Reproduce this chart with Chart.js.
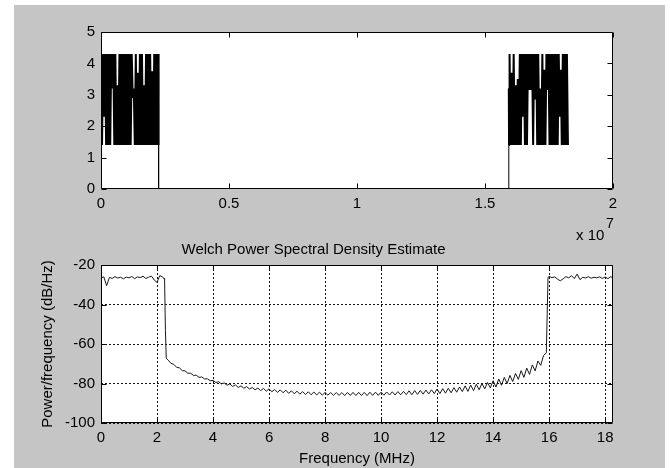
<!DOCTYPE html>
<html>
<head>
<meta charset="utf-8">
<script src="https://cdn.jsdelivr.net/npm/chart.js@4.4.1/dist/chart.umd.min.js"></script>
<style>
  body { margin: 0; width: 670px; height: 468px; background: #fff; position: relative; overflow: hidden; }
  #fig { position: absolute; left: 14px; top: 5px; width: 651px; height: 463px; background: #c5c5c5; }
  canvas { position: absolute; left: 14px; }
  #topChart { top: 5px; }
  #psdChart { top: 230px; }
  .exp { position: absolute; font-family: 'Liberation Sans', Arial, sans-serif; color: #000; white-space: nowrap; }
</style>
</head>
<body>
<div id="fig"></div>
<canvas id="topChart" width="651" height="240"></canvas>
<canvas id="psdChart" width="651" height="238"></canvas>
<div class="exp" style="left:576px;top:227px;font-size:15px;line-height:15px;">x 10</div>
<div class="exp" style="left:606px;top:216px;font-size:14px;line-height:14px;">7</div>
<script>
// upper plot: magnitude vs frequency (axis in MHz, labelled in units of 1e7 Hz)
const topTickMHz = [0, 5, 10, 15, 20];
const topTickLabels = ['0', '0.5', '1', '1.5', '2'];
const topMagTicks = [0, 1, 2, 3, 4, 5];

const leftBlockMHz = [0, 0.04, 0.08, 0.12, 0.16, 0.2, 0.24, 0.28, 0.32, 0.36,
  0.4, 0.44, 0.48, 0.52, 0.56, 0.6, 0.64, 0.68, 0.72, 0.76,
  0.8, 0.84, 0.88, 0.92, 0.96, 1, 1.04, 1.08, 1.12, 1.16,
  1.2, 1.24, 1.28, 1.32, 1.36, 1.4, 1.44, 1.48, 1.52, 1.56,
  1.6, 1.64, 1.68, 1.72, 1.76, 1.8, 1.84, 1.88, 1.92, 1.96,
  2, 2.04, 2.08, 2.12, 2.16, 2.2, 2.24];
const leftBlockMag = [4.3, 1.4, 4.3, 2.3, 4.3, 1.4, 4.3, 1.4, 4.3, 1.4,
  4.3, 3.2, 4.3, 1.4, 4.3, 1.4, 3.3, 1.4, 4.3, 1.4,
  4.3, 1.4, 4.3, 1.4, 4.3, 1.4, 4.3, 1.4, 4.3, 1.4,
  4.3, 2.9, 3.2, 1.4, 4.3, 1.4, 3.7, 1.4, 4.3, 1.4,
  4.3, 1.4, 3.3, 1.4, 4.3, 1.4, 4.3, 1.4, 4.3, 1.4,
  3.75, 1.4, 4.3, 1.4, 4.3, 1.4, 4.3];

const gapMHz = [2.25, 2.25, 15.92, 15.93, 15.94];
const gapMag = [1.4, 0, 0, 3.2, 1.4];

const rightBlockMHz = [15.96, 16, 16.04, 16.08, 16.12, 16.16, 16.2, 16.24, 16.28, 16.32,
  16.36, 16.4, 16.44, 16.48, 16.52, 16.56, 16.6, 16.64, 16.68, 16.72,
  16.76, 16.8, 16.84, 16.88, 16.92, 16.96, 17, 17.04, 17.08, 17.12,
  17.16, 17.2, 17.24, 17.28, 17.32, 17.36, 17.4, 17.44, 17.48, 17.52,
  17.56, 17.6, 17.64, 17.68, 17.72, 17.76, 17.8, 17.84, 17.88, 17.92,
  17.96, 18, 18.04, 18.08, 18.12, 18.16, 18.2, 18.24];
const rightBlockMag = [4.3, 1.4, 3.7, 1.4, 4.3, 1.4, 3.3, 1.4, 3.5, 1.4,
  4.3, 1.4, 4.3, 2.3, 4.3, 1.4, 4.3, 1.4, 4.3, 3.15,
  4.3, 3.15, 4.3, 1.4, 4.3, 2.85, 4.3, 1.4, 4.3, 1.4,
  3.2, 1.4, 4.3, 1.4, 3.8, 1.4, 4.3, 3.15, 4.3, 1.4,
  4.3, 1.4, 4.3, 1.4, 4.3, 1.4, 4.3, 1.4, 4.3, 2.3,
  3.8, 1.4, 4.3, 1.4, 4.3, 1.4, 4.3, 1.4];

// lower plot: Welch PSD
const psdTickMHz = [0, 2, 4, 6, 8, 10, 12, 14, 16, 18];
const psdTickDb = [-100, -80, -60, -40, -20];
const psdTickDbLabels = ['-100', '-80', '-60', '-40', '-20'];

const psdMHz = [0, 0.1, 0.2, 0.3, 0.4, 0.5, 0.6, 0.7, 0.8, 0.9,
  1, 1.1, 1.2, 1.3, 1.4, 1.5, 1.6, 1.7, 1.8, 1.9,
  2, 2.1, 2.2, 2.25, 2.27, 2.3, 2.33,
  2.4, 2.5, 2.6, 2.7, 2.8, 2.9,
  3, 3.1, 3.2, 3.3, 3.4, 3.5, 3.6, 3.7, 3.8, 3.9,
  4, 4.1, 4.2, 4.3, 4.4, 4.5, 4.6, 4.7, 4.8, 4.9,
  5, 5.1, 5.2, 5.3, 5.4, 5.5, 5.6, 5.7, 5.8, 5.9,
  6, 6.1, 6.2, 6.3, 6.4, 6.5, 6.6, 6.7, 6.8, 6.9,
  7, 7.1, 7.2, 7.3, 7.4, 7.5, 7.6, 7.7, 7.8, 7.9,
  8, 8.1, 8.2, 8.3, 8.4, 8.5, 8.6, 8.7, 8.8, 8.9,
  9, 9.1, 9.2, 9.3, 9.4, 9.5, 9.6, 9.7, 9.8, 9.9,
  10, 10.1, 10.2, 10.3, 10.4, 10.5, 10.6, 10.7, 10.8, 10.9,
  11, 11.1, 11.2, 11.3, 11.4, 11.5, 11.6, 11.7, 11.8, 11.9,
  12, 12.1, 12.2, 12.3, 12.4, 12.5, 12.6, 12.7, 12.8, 12.9,
  13, 13.1, 13.2, 13.3, 13.4, 13.5, 13.6, 13.7, 13.8, 13.9,
  14, 14.1, 14.2, 14.3, 14.4, 14.5, 14.6, 14.7, 14.8, 14.9,
  15, 15.1, 15.2, 15.3, 15.4, 15.5, 15.6, 15.7, 15.8, 15.9,
  15.93, 15.96,
  16, 16.1, 16.2, 16.3, 16.4, 16.5, 16.6, 16.7, 16.8, 16.9,
  17, 17.1, 17.2, 17.3, 17.4, 17.5, 17.6, 17.7, 17.8, 17.9,
  18, 18.1, 18.2, 18.28];
const psdDb = [-26.5, -26.0, -30.5, -26.3, -26.8, -25.9, -26.6, -26.2, -27.0, -26.1,
  -26.5, -25.8, -26.9, -26.0, -26.4, -25.7, -26.8, -26.2, -25.6, -27.6,
  -28.8, -25.3, -26.2, -26.8, -27.5, -53, -67.2,
  -68.2, -69.8, -70.3, -71.8, -72.1, -73.5,
  -73.6, -74.8, -74.8, -75.9, -75.8, -76.9, -76.7, -77.7, -77.6, -78.6,
  -78.4, -79.5, -79.1, -80.2, -79.7, -80.9, -80.2, -81.5, -80.7, -82.0,
  -81.2, -82.4, -81.6, -82.8, -82.0, -83.2, -82.3, -83.6, -82.5, -83.9,
  -82.7, -84.2, -83.0, -84.5, -83.2, -84.7, -83.4, -85.0, -83.7, -85.2,
  -83.9, -85.4, -84.1, -85.6, -84.2, -85.7, -84.3, -85.8, -84.4, -85.9,
  -84.5, -85.9, -84.6, -86.0, -84.6, -86.0, -84.6, -86.1, -84.5, -86.1,
  -84.5, -86.1, -84.5, -86.1, -84.5, -86.1, -84.4, -86.0, -84.4, -86.0,
  -84.4, -85.9, -84.3, -85.8, -84.2, -85.8, -84.1, -85.7, -84.0, -85.6,
  -83.7, -85.7, -83.6, -85.5, -83.5, -85.4, -83.3, -85.3, -83.2, -85.1,
  -82.8, -85.1, -82.6, -84.9, -82.4, -84.7, -82.1, -84.4, -81.8, -84.1,
  -81.2, -84.0, -80.8, -83.6, -80.4, -83.2, -80.0, -82.7, -79.5, -82.2,
  -78.6, -81.8, -77.7, -80.9, -76.9, -80.0, -75.9, -79.0, -74.9, -77.9,
  -73.5, -76.9, -72.2, -75.4, -70.6, -73.6, -68.6, -70.8, -65.8, -64.5,
  -45, -26.2,
  -25.8, -26.4, -26.0, -27.2, -28.0, -27.0, -25.9, -26.5, -25.4, -26.9,
  -24.6, -27.4, -26.2, -26.6, -25.9, -26.7, -26.2, -26.5, -26.0, -26.8,
  -26.1, -26.9, -25.9, -26.5];

Chart.defaults.font.family = "'Liberation Sans', Arial, sans-serif";
Chart.defaults.font.size = 15;
Chart.defaults.color = '#000';

// MATLAB style axes: white plot area, box and inward ticks on all four sides
const boxPlugin = {
  id: 'box',
  beforeDraw(chart) {
    const { ctx, chartArea: a } = chart;
    ctx.save();
    ctx.fillStyle = '#fff';
    ctx.fillRect(a.left, a.top, a.right - a.left, a.bottom - a.top);
    ctx.restore();
  },
  afterDraw(chart) {
    const { ctx, chartArea: a, scales } = chart;
    const l = Math.round(a.left) + 0.5, r = Math.round(a.right) - 0.5;
    const t = Math.round(a.top) + 0.5, b = Math.round(a.bottom) - 0.5;
    ctx.save();
    ctx.strokeStyle = '#000';
    ctx.lineWidth = 1;
    ctx.setLineDash([]);
    ctx.beginPath();
    ctx.rect(l, t, r - l, b - t);
    scales.x.ticks.forEach(tk => {
      const px = Math.round(scales.x.getPixelForValue(tk.value)) + 0.5;
      ctx.moveTo(px, b); ctx.lineTo(px, b - 5);
      ctx.moveTo(px, t); ctx.lineTo(px, t + 5);
    });
    scales.y.ticks.forEach(tk => {
      const py = Math.round(scales.y.getPixelForValue(tk.value)) + 0.5;
      ctx.moveTo(l, py); ctx.lineTo(l + 5, py);
      ctx.moveTo(r, py); ctx.lineTo(r - 5, py);
    });
    ctx.stroke();
    ctx.restore();
  }
};

const topX = leftBlockMHz.concat(gapMHz, rightBlockMHz);
const topY = leftBlockMag.concat(gapMag, rightBlockMag);

new Chart(document.getElementById('topChart'), {
  type: 'line',
  data: {
    datasets: [{
      data: topX.map((f, i) => ({ x: f, y: topY[i] })),
      borderColor: '#000',
      borderWidth: 2,
      borderJoinStyle: 'bevel',
      pointRadius: 0,
      tension: 0,
      // thin line along the zero baseline, thick where the trace is dense
      segment: {
        borderWidth: c => (c.p0.parsed.y === 0 || c.p1.parsed.y === 0) ? 1 : 2
      }
    }]
  },
  options: {
    responsive: false,
    animation: false,
    devicePixelRatio: 1,
    layout: { padding: { left: 0, right: 52, top: 27, bottom: 0 } },
    plugins: { legend: { display: false }, tooltip: { enabled: false } },
    scales: {
      x: {
        type: 'linear', min: 0, max: 20,
        afterBuildTicks: s => { s.ticks = topTickMHz.map(v => ({ value: v })); },
        afterFit: s => { s.height = 56; },
        grid: { display: false, drawTicks: false },
        border: { display: false },
        ticks: { padding: 6, maxRotation: 0, autoSkip: false, callback: (v, i) => topTickLabels[i] }
      },
      y: {
        type: 'linear', min: 0, max: 5,
        afterBuildTicks: s => { s.ticks = topMagTicks.map(v => ({ value: v })); },
        afterFit: s => { s.width = 87; },
        grid: { display: false, drawTicks: false },
        border: { display: false },
        ticks: { padding: 6, autoSkip: false, callback: v => String(v) }
      }
    }
  },
  plugins: [boxPlugin]
});

new Chart(document.getElementById('psdChart'), {
  type: 'line',
  data: {
    datasets: [{
      data: psdMHz.map((f, i) => ({ x: f, y: psdDb[i] })),
      borderColor: '#1a1a1a',
      borderWidth: 1,
      pointRadius: 0,
      tension: 0
    }]
  },
  options: {
    responsive: false,
    animation: false,
    devicePixelRatio: 1,
    layout: { padding: { left: 0, right: 52, top: 0, bottom: 0 } },
    plugins: {
      legend: { display: false },
      tooltip: { enabled: false },
      title: {
        display: true,
        text: 'Welch Power Spectral Density Estimate',
        color: '#000',
        font: { size: 15, weight: 'normal' },
        padding: { top: 11, bottom: 6 }
      }
    },
    scales: {
      x: {
        type: 'linear', min: 0, max: 18.28,
        afterBuildTicks: s => { s.ticks = psdTickMHz.map(v => ({ value: v })); },
        afterFit: s => { s.height = 45; },
        grid: { color: '#111', lineWidth: 1, drawTicks: false },
        border: { display: false, dash: [2, 2] },
        ticks: { padding: 6, maxRotation: 0, autoSkip: false, callback: (v, i) => String(psdTickMHz[i]) },
        title: { display: true, text: 'Frequency (MHz)', padding: { top: 0, bottom: 0 } }
      },
      y: {
        type: 'linear', min: -100, max: -20,
        afterBuildTicks: s => { s.ticks = psdTickDb.map(v => ({ value: v })); },
        afterFit: s => { s.width = 87; },
        grid: { color: '#111', lineWidth: 1, drawTicks: false },
        border: { display: false, dash: [2, 2] },
        ticks: { padding: 6, autoSkip: false, callback: (v, i) => psdTickDbLabels[i] },
        title: { display: true, text: 'Power/frequency (dB/Hz)', padding: { top: 25, bottom: 0 } }
      }
    }
  },
  plugins: [boxPlugin]
});
</script>
</body>
</html>
